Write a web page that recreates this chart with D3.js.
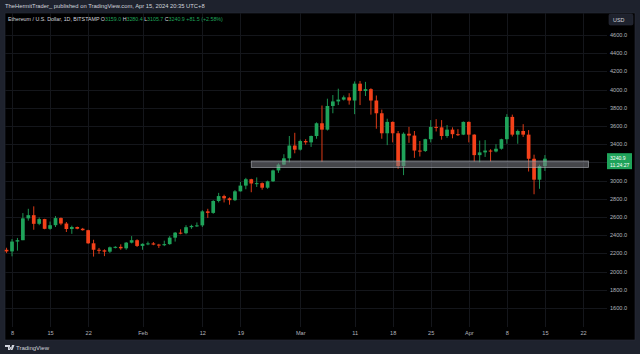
<!DOCTYPE html>
<html>
<head>
<meta charset="utf-8">
<script src="https://cdn.jsdelivr.net/npm/d3@7"></script>
<style>
  html, body { margin: 0; padding: 0; background: #1e222d; }
  svg { display: block; font-family: "Liberation Sans", Arial, sans-serif; }
</style>
</head>
<body>
<div id="chart"></div>
<script>
// daily candles, ETH/USD Bitstamp
var dates = [
  "2024-01-07","2024-01-08","2024-01-09","2024-01-10","2024-01-11","2024-01-12","2024-01-13","2024-01-14","2024-01-15","2024-01-16",
  "2024-01-17","2024-01-18","2024-01-19","2024-01-20","2024-01-21","2024-01-22","2024-01-23","2024-01-24","2024-01-25","2024-01-26",
  "2024-01-27","2024-01-28","2024-01-29","2024-01-30","2024-01-31","2024-02-01","2024-02-02","2024-02-03","2024-02-04","2024-02-05",
  "2024-02-06","2024-02-07","2024-02-08","2024-02-09","2024-02-10","2024-02-11","2024-02-12","2024-02-13","2024-02-14","2024-02-15",
  "2024-02-16","2024-02-17","2024-02-18","2024-02-19","2024-02-20","2024-02-21","2024-02-22","2024-02-23","2024-02-24","2024-02-25",
  "2024-02-26","2024-02-27","2024-02-28","2024-02-29","2024-03-01","2024-03-02","2024-03-03","2024-03-04","2024-03-05","2024-03-06",
  "2024-03-07","2024-03-08","2024-03-09","2024-03-10","2024-03-11","2024-03-12","2024-03-13","2024-03-14","2024-03-15","2024-03-16",
  "2024-03-17","2024-03-18","2024-03-19","2024-03-20","2024-03-21","2024-03-22","2024-03-23","2024-03-24","2024-03-25","2024-03-26",
  "2024-03-27","2024-03-28","2024-03-29","2024-03-30","2024-03-31","2024-04-01","2024-04-02","2024-04-03","2024-04-04","2024-04-05",
  "2024-04-06","2024-04-07","2024-04-08","2024-04-09","2024-04-10","2024-04-11","2024-04-12","2024-04-13","2024-04-14","2024-04-15"
];
var opens = [
  2240,2222,2330,2345,2585,2620,2525,2577,2470,2510, 2588,2528,2468,2490,2471,2455,2311,2240,2234,2219,
  2267,2272,2256,2318,2345,2282,2305,2310,2297,2290, 2302,2373,2428,2422,2488,2502,2508,2662,2645,2776,
  2830,2805,2785,2882,2945,3015,2968,2972,2922,2992, 3112,3176,3245,3385,3340,3435,3420,3490,3630,3560,
  3820,3870,3890,3915,3880,4065,3985,4005,3880,3740, 3520,3645,3520,3160,3515,3495,3330,3325,3455,3590,
  3585,3490,3560,3510,3505,3645,3505,3280,3310,3330, 3320,3350,3455,3700,3505,3545,3505,3240,3010,3159.0
];
var highs = [
  2262,2358,2370,2643,2690,2717,2595,2580,2550,2610, 2595,2545,2505,2495,2480,2460,2350,2260,2245,2275,
  2280,2300,2325,2390,2355,2310,2330,2325,2305,2340, 2390,2435,2465,2510,2515,2540,2675,2690,2785,2865,
  2845,2815,2895,2985,3030,3020,3035,2980,3000,3120, 3190,3290,3490,3525,3450,3455,3495,3640,3825,3900,
  3940,4010,3935,3960,4090,4095,4085,4015,3935,3780, 3680,3650,3545,3530,3590,3545,3435,3460,3665,3675,
  3665,3610,3585,3565,3650,3650,3510,3440,3445,3345, 3400,3460,3730,3725,3560,3620,3555,3285,3175,3280.4
];
var lows = [
  2205,2168,2230,2345,2560,2460,2510,2465,2460,2490, 2510,2435,2415,2465,2450,2305,2165,2195,2170,2205,
  2255,2240,2240,2310,2270,2240,2290,2290,2260,2280, 2295,2330,2410,2410,2470,2490,2490,2590,2635,2760,
  2760,2735,2775,2880,2905,2872,2930,2900,2910,2985, 3085,3170,3200,3300,3330,3395,3370,3460,3205,3550,
  3740,3830,3880,3835,3730,3830,3930,3725,3570,3460, 3390,3420,3130,3060,3415,3250,3265,3315,3420,3540,
  3450,3470,3465,3490,3500,3420,3210,3200,3260,3210, 3310,3340,3405,3485,3405,3480,3100,2850,2910,3105.7
];
var closes = [
  2222,2330,2345,2585,2620,2525,2577,2470,2510,2588, 2528,2468,2490,2471,2455,2311,2240,2234,2219,2267,
  2272,2256,2318,2345,2282,2305,2310,2297,2290,2302, 2373,2428,2422,2488,2502,2508,2662,2645,2776,2830,
  2805,2785,2882,2945,3015,2968,2972,2922,2992,3112, 3176,3245,3385,3340,3435,3420,3490,3630,3560,3820,
  3870,3890,3915,3880,4065,3985,4005,3880,3740,3520, 3645,3520,3160,3515,3495,3330,3325,3455,3590,3585,
  3490,3560,3510,3505,3645,3505,3280,3310,3330,3320, 3350,3455,3700,3505,3545,3505,3240,3010,3160,3240.9
];

// axis ticks
var priceTicks = [1600,1800,2000,2200,2400,2600,2800,3000,3200,3400,3600,3800,4000,4200,4400,4600];
var timeTicks = ["2024-01-08","2024-01-15","2024-01-22","2024-02-01","2024-02-12","2024-02-19","2024-03-01",
                 "2024-03-11","2024-03-18","2024-03-25","2024-04-01","2024-04-08","2024-04-15","2024-04-22"];
var timeLabels = ["8","15","22","Feb","12","19","Mar","11","18","25","Apr","8","15","22"];

// support zone drawn on the chart
var zoneFrom = "2024-02-21";
var zoneTo = "2024-04-23";
var zoneLow = 3145;
var zoneHigh = 3215;

var lastPrice = "3240.9";
var countdown = "11:24:27";

var UP = "#1fa35a";
var DOWN = "#f4411a";

function init() {
    var w = 640;
    var h = 354;
    var parse = d3.utcParse("%Y-%m-%d");

    var svg = d3.select("#chart")
                .append("svg")
                .attr("width", w)
                .attr("height", h);

    // frame + pane
    svg.append("rect").attr("width", w).attr("height", h).attr("fill", "#1e222d");
    svg.append("rect")
        .attr("x", 5).attr("y", 13).attr("width", 630).attr("height", 327)
        .attr("fill", "#000").attr("stroke", "#2a2e39").attr("stroke-width", 0.6);

    var xScale = d3.scaleUtc()
                    .domain([parse(timeTicks[0]), parse(timeTicks[timeTicks.length - 1])])
                    .range([12, 583]);

    var yScale = d3.scaleLinear()
                    .domain([1600, 4600])
                    .range([308, 35]);

    var dayW = xScale(parse("2024-01-09")) - xScale(parse("2024-01-08"));
    var bodyW = dayW * 0.68;

    // grid
    var grid = svg.append("g");
    grid.selectAll(".hg")
        .data(priceTicks)
        .enter()
        .append("line")
        .attr("x1", 5).attr("x2", 607)
        .attr("y1", function(d) { return Math.round(yScale(d)) + 0.5; })
        .attr("y2", function(d) { return Math.round(yScale(d)) + 0.5; })
        .attr("stroke", "#14161b").attr("stroke-width", 1);
    grid.selectAll(".vg")
        .data(timeTicks)
        .enter()
        .append("line")
        .attr("x1", function(d) { return Math.round(xScale(parse(d))) + 0.5; })
        .attr("x2", function(d) { return Math.round(xScale(parse(d))) + 0.5; })
        .attr("y1", 13).attr("y2", 327)
        .attr("stroke", "#14161b").attr("stroke-width", 1);

    // candles
    var candles = dates.map(function(d, i) {
        return { date: parse(d), o: opens[i], h: highs[i], l: lows[i], c: closes[i] };
    });

    var g = svg.append("g");
    var cg = g.selectAll("g.candle")
        .data(candles)
        .enter()
        .append("g");

    cg.append("line")
        .attr("x1", function(d) { return xScale(d.date); })
        .attr("x2", function(d) { return xScale(d.date); })
        .attr("y1", function(d) { return yScale(d.h); })
        .attr("y2", function(d) { return yScale(d.l); })
        .attr("stroke", function(d) { return d.c >= d.o ? UP : DOWN; })
        .attr("stroke-width", 0.9);

    cg.append("rect")
        .attr("x", function(d) { return xScale(d.date) - bodyW / 2; })
        .attr("y", function(d) { return yScale(Math.max(d.o, d.c)); })
        .attr("width", bodyW)
        .attr("height", function(d) { return Math.max(1, Math.abs(yScale(d.o) - yScale(d.c))); })
        .attr("fill", function(d) { return d.c >= d.o ? UP : DOWN; });

    // support zone
    svg.append("rect")
        .attr("x", xScale(parse(zoneFrom)))
        .attr("y", yScale(zoneHigh))
        .attr("width", xScale(parse(zoneTo)) - xScale(parse(zoneFrom)))
        .attr("height", yScale(zoneLow) - yScale(zoneHigh))
        .attr("fill", "rgba(125,128,135,0.55)")
        .attr("stroke", "rgba(185,188,195,0.7)")
        .attr("stroke-width", 0.8);

    // price axis labels (the one under the last-price tag is hidden, as on TradingView)
    var py = yScale(+lastPrice);
    svg.append("g").selectAll("text")
        .data(priceTicks.filter(function(d) { return Math.abs(yScale(d) - py) > 10; }))
        .enter()
        .append("text")
        .attr("x", 610)
        .attr("y", function(d) { return yScale(d) + 2; })
        .attr("fill", "#b2b5be")
        .attr("font-size", 5.6)
        .text(function(d) { return d.toFixed(1); });

    // time axis
    var xAxis = d3.axisBottom(xScale)
                    .tickValues(timeTicks.map(parse))
                    .tickSize(0)
                    .tickFormat(function(d, i) { return timeLabels[i]; });
    var ax = svg.append("g")
        .attr("transform", "translate(0, 328)")
        .call(xAxis);
    ax.select(".domain").remove();
    ax.selectAll("text")
        .attr("fill", "#b2b5be")
        .attr("font-size", 5.6)
        .attr("dy", "0.35em")
        .attr("y", 5)
        .attr("font-family", "Liberation Sans, Arial, sans-serif");

    // USD box
    svg.append("rect")
        .attr("x", 609).attr("y", 14).attr("width", 24).attr("height", 11).attr("rx", 1.5)
        .attr("fill", "#1e222d").attr("stroke", "#2a2e39").attr("stroke-width", 0.6);
    svg.append("text")
        .attr("x", 613).attr("y", 21.5)
        .attr("fill", "#d1d4dc").attr("font-size", 5.4)
        .text("USD");

    // last price label
    svg.append("rect")
        .attr("x", 607).attr("y", py - 5.5).attr("width", 25).attr("height", 16)
        .attr("fill", UP);
    svg.append("text")
        .attr("x", 610).attr("y", py + 1.2)
        .attr("fill", "#fff").attr("font-size", 5.1)
        .text(lastPrice);
    svg.append("text")
        .attr("x", 610).attr("y", py + 8.2)
        .attr("fill", "#fff").attr("font-size", 5.1)
        .text(countdown);

    // header
    svg.append("text")
        .attr("x", 5).attr("y", 8)
        .attr("fill", "#d1d4dc").attr("font-size", 5.8)
        .text("TheHermitTrader_ published on TradingView.com, Apr 15, 2024 20:35 UTC+8");

    var leg = svg.append("text")
        .attr("x", 8).attr("y", 21)
        .attr("font-size", 5.3)
        .attr("fill", "#d1d4dc");
    leg.append("tspan").text("Ethereum / U.S. Dollar, 1D, BITSTAMP  ");
    var parts = [["O", "3159.0"], ["H", "3280.4"], ["L", "3105.7"], ["C", "3240.9"]];
    parts.forEach(function(p) {
        leg.append("tspan").attr("fill", "#d1d4dc").text(" " + p[0]);
        leg.append("tspan").attr("fill", UP).text(p[1]);
    });
    leg.append("tspan").attr("fill", UP).text("  +81.5 (+2.58%)");

    // footer logo
    svg.append("path")
        .attr("d", "M5,345 h5 v5 h-2 v-3 h-3 z M10.5,347 a1,1 0 1,0 0.01,0 M12,345 h2.5 l-2,5 h-2 z")
        .attr("fill", "#d1d4dc");
    svg.append("text")
        .attr("x", 16).attr("y", 349.5)
        .attr("fill", "#d1d4dc").attr("font-size", 6)
        .text("TradingView");
}

window.onload = init;
</script>
</body>
</html>
